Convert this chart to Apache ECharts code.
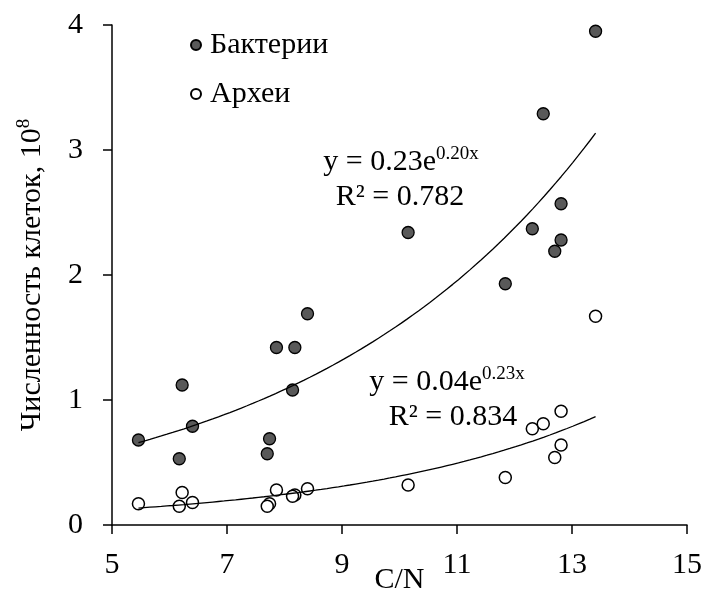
<!DOCTYPE html>
<html>
<head>
<meta charset="utf-8">
<style>
  html, body { margin: 0; padding: 0; background: #ffffff; }
  #chart { width: 706px; height: 600px; }
</style>
<script src="https://cdn.jsdelivr.net/npm/echarts@6/dist/echarts.min.js"></script>
</head>
<body>
<div id="chart"></div>
<script>
// C/N ratio of each sample (shared by both groups)
const cnRatio = [5.46, 6.22, 6.17, 6.40, 7.74, 7.70, 7.86, 8.18, 8.14, 8.40,
                 10.15, 11.84, 12.31, 12.50, 12.81, 12.81, 12.70, 13.41];
// Cell counts, 10^8
const bacteria = [0.68, 1.12, 0.53, 0.79, 0.69, 0.57, 1.42, 1.42, 1.08, 1.69,
                  2.34, 1.93, 2.37, 3.29, 2.57, 2.28, 2.19, 3.95];
const archaea = [0.17, 0.26, 0.15, 0.18, 0.17, 0.15, 0.28, 0.24, 0.23, 0.29,
                 0.32, 0.38, 0.77, 0.81, 0.91, 0.64, 0.54, 1.67];

const seriesNames = ['Бактерии', 'Археи'];
const xTicks = [5, 7, 9, 11, 13, 15];
const yTicks = [0, 1, 2, 3, 4];
const eqBacteria = ['0.23', '0.20', '0.782'];
const eqArchaea = ['0.04', '0.23', '0.834'];

const FONT = "'Liberation Serif', 'Times New Roman', serif";
const FS = 30;
const FS_SUP = 19;

// Exponential least-squares trend (fit of ln y against x)
function expFit(xs, ys) {
  const n = xs.length;
  const ly = ys.map(Math.log);
  const mx = xs.reduce((s, v) => s + v, 0) / n;
  const my = ly.reduce((s, v) => s + v, 0) / n;
  let sxy = 0, sxx = 0;
  for (let i = 0; i < n; i++) {
    sxy += (xs[i] - mx) * (ly[i] - my);
    sxx += (xs[i] - mx) * (xs[i] - mx);
  }
  const b = sxy / sxx;
  return { a: Math.exp(my - b * mx), b: b };
}

function trendPoints(xs, ys) {
  const f = expFit(xs, ys);
  const lo = Math.min.apply(null, xs), hi = Math.max.apply(null, xs);
  const pts = [];
  const steps = 80;
  for (let i = 0; i <= steps; i++) {
    const x = lo + (hi - lo) * i / steps;
    pts.push([x, f.a * Math.exp(f.b * x)]);
  }
  return pts;
}

const pairs = ys => cnRatio.map((x, i) => [x, ys[i]]);

const chart = echarts.init(document.getElementById('chart'), null, { renderer: 'canvas' });

const axisLineStyle = { color: '#000', width: 1.5 };

function eqText(c) {
  return '{m|y = ' + c[0] + 'e}{s|' + c[1] + 'x}';
}
const eqRich = {
  m: { fontSize: FS, fontFamily: FONT, fill: '#000', lineHeight: 32, verticalAlign: 'bottom' },
  s: { fontSize: FS_SUP, fontFamily: FONT, fill: '#000', lineHeight: 19, verticalAlign: 'top' }
};

chart.setOption({
  animation: false,
  backgroundColor: '#ffffff',
  textStyle: { fontFamily: FONT, color: '#000' },
  grid: { left: 112, right: 19, top: 25, bottom: 75, containLabel: false, outerBoundsMode: 'none' },
  legend: {
    data: seriesNames,
    orient: 'vertical',
    left: 185,
    top: 25,
    itemWidth: 10,
    itemHeight: 10,
    itemGap: 19,
    textStyle: { fontSize: FS, fontFamily: FONT, color: '#000', lineHeight: 30, padding: [0, 0, 0, 4] }
  },
  xAxis: {
    type: 'value',
    min: xTicks[0],
    max: xTicks[xTicks.length - 1],
    interval: xTicks[1] - xTicks[0],
    name: 'C/N',
    nameLocation: 'middle',
    nameGap: 40,
    nameMoveOverlap: false,
    nameTextStyle: { fontSize: FS, fontFamily: FONT, color: '#000' },
    axisLine: { show: true, onZero: false, lineStyle: axisLineStyle },
    axisTick: { show: true, inside: false, length: 9, lineStyle: axisLineStyle },
    axisLabel: { fontSize: FS, fontFamily: FONT, color: '#000', margin: 25 },
    splitLine: { show: false }
  },
  yAxis: {
    type: 'value',
    min: yTicks[0],
    max: yTicks[yTicks.length - 1],
    interval: yTicks[1] - yTicks[0],
    name: '{m|Численность клеток, 10}{s|8}',
    nameLocation: 'middle',
    nameGap: 65,
    nameMoveOverlap: false,
    nameTextStyle: {
      fontSize: FS, fontFamily: FONT, color: '#000',
      rich: {
        m: { fontSize: FS, fontFamily: FONT, color: '#000', lineHeight: 32, verticalAlign: 'bottom' },
        s: { fontSize: FS_SUP, fontFamily: FONT, color: '#000', lineHeight: 19, verticalAlign: 'top' }
      }
    },
    axisLine: { show: true, onZero: false, lineStyle: axisLineStyle },
    axisTick: { show: true, inside: false, length: 9, lineStyle: axisLineStyle },
    axisLabel: { fontSize: FS, fontFamily: FONT, color: '#000', margin: 29 },
    splitLine: { show: false }
  },
  series: [
    {
      name: seriesNames[0],
      type: 'scatter',
      data: pairs(bacteria),
      symbol: 'circle',
      symbolSize: 12,
      itemStyle: { color: '#595959', borderColor: '#000', borderWidth: 1.3, opacity: 1 },
      z: 3
    },
    {
      name: seriesNames[1],
      type: 'scatter',
      data: pairs(archaea),
      symbol: 'circle',
      symbolSize: 12,
      itemStyle: { color: '#ffffff', borderColor: '#000', borderWidth: 1.5, opacity: 1 },
      z: 3
    },
    {
      name: 'trend-bacteria',
      type: 'line',
      data: trendPoints(cnRatio, bacteria),
      showSymbol: false,
      symbol: 'none',
      silent: true,
      lineStyle: { color: '#000', width: 1.3 },
      z: 4
    },
    {
      name: 'trend-archaea',
      type: 'line',
      data: trendPoints(cnRatio, archaea),
      showSymbol: false,
      symbol: 'none',
      silent: true,
      lineStyle: { color: '#000', width: 1.3 },
      z: 4
    }
  ],
  graphic: [
    { type: 'text', x: 401, y: 161, z: 10,
      style: { text: eqText(eqBacteria), rich: eqRich, align: 'center', verticalAlign: 'middle', fill: '#000' } },
    { type: 'text', x: 400, y: 197, z: 10,
      style: { text: 'R² = ' + eqBacteria[2], font: FS + 'px ' + FONT, align: 'center', verticalAlign: 'middle', fill: '#000' } },
    { type: 'text', x: 447, y: 381, z: 10,
      style: { text: eqText(eqArchaea), rich: eqRich, align: 'center', verticalAlign: 'middle', fill: '#000' } },
    { type: 'text', x: 453, y: 417, z: 10,
      style: { text: 'R² = ' + eqArchaea[2], font: FS + 'px ' + FONT, align: 'center', verticalAlign: 'middle', fill: '#000' } }
  ]
});
</script>
</body>
</html>
